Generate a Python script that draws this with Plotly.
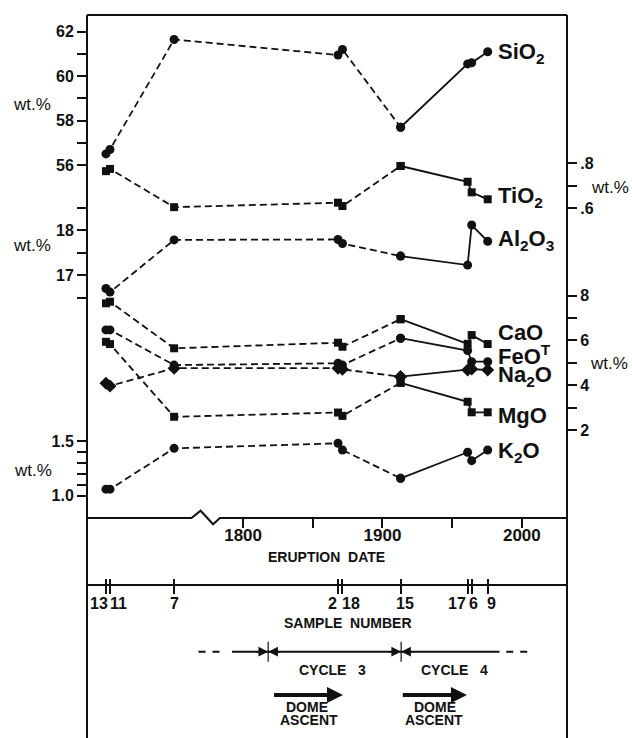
import plotly.graph_objects as go

# ---------------- data ----------------
sample_ids = ["13", "11", "7", "2", "18", "15", "17", "6", "9"]
# position on the (broken) eruption-date axis, in years
sample_pos = [1701.6, 1704.5, 1750.5, 1868.1, 1871.3, 1913.0, 1961.1, 1964.0, 1975.5]

sio2 = [56.5, 56.7, 61.65, 60.95, 61.2, 57.7, 60.55, 60.6, 61.1]
tio2 = [0.765, 0.775, 0.605, 0.625, 0.61, 0.788, 0.718, 0.671, 0.64]
al2o3 = [16.70, 16.62, 17.78, 17.79, 17.70, 17.42, 17.22, 18.11, 17.75]
cao = [7.66, 7.73, 5.65, 5.90, 5.72, 6.95, 5.85, 6.24, 5.84]
feo = [6.47, 6.47, 4.90, 4.98, 4.90, 6.10, 5.55, 5.05, 5.05]
na2o = [4.09, 3.97, 4.76, 4.76, 4.71, 4.38, 4.68, 4.72, 4.68]
mgo = [5.94, 5.84, 2.59, 2.78, 2.63, 4.11, 3.26, 2.79, 2.79]
k2o = [1.06, 1.06, 1.433, 1.479, 1.418, 1.159, 1.397, 1.32, 1.418]

date_ticks = [1800, 1900, 2000]
date_labels = ["1800", "1900", "2000"]
date_minor = [1850, 1950]

sio2_ticks = [62, 60, 58, 56]
sio2_labels = ["62", "60", "58", "56"]
sio2_minor = [61, 59, 57]
al2o3_ticks = [18, 17]
al2o3_labels = ["18", "17"]
al2o3_minor = [18.5, 17.5, 16.5]
k2o_ticks = [1.5, 1.0]
k2o_labels = ["1.5", "1.0"]
k2o_minor = [1.4, 1.3, 1.2, 1.1]
tio2_ticks = [0.8, 0.6]
tio2_labels = [".8", ".6"]
tio2_minor = [0.7]
major_ticks = [8, 6, 4, 2]
major_labels = ["8", "6", "4", "2"]
major_minor = [7, 5, 3]

cycle_bounds = [1818.0, 1913.4]
cycle_names = ["CYCLE\u00a0\u00a0\u00a03", "CYCLE\u00a0\u00a0\u00a04"]
dome_start = [1821.1, 1913.5]
dome_end = [1871.7, 1960.6]

# ---------------- layout helpers ----------------
W, H = 632, 738
ML, MR, MT, MB = 87, 64.5, 15, 0
PW = W - ML - MR
PH = H - MT - MB


def yp(py):
    return 1 - (py - MT) / PH


def xp(px):
    return (px - ML) / PW


X_RANGE = [1688.0, 2032.4]
DOM = [yp(518), 1]

FONT = "Liberation Sans, Arial, sans-serif"
BLACK = "#111"

fig = go.Figure()

series = [
    ("SiO<sub>2</sub>", sio2, "y", "circle", 9, -1),
    ("TiO<sub>2</sub>", tio2, "y2", "square", 8, 2),
    ("Al<sub>2</sub>O<sub>3</sub>", al2o3, "y3", "circle", 9, 1),
    ("CaO", cao, "y4", "square", 8, 12),
    ("FeO<sup>T</sup>", feo, "y4", "circle", 9, 7),
    ("Na<sub>2</sub>O", na2o, "y4", "diamond", 10, -6),
    ("MgO", mgo, "y4", "square", 8, -3),
    ("K<sub>2</sub>O", k2o, "y5", "circle", 9, -2),
]

for name, vals, yax, sym, msz, yshift in series:
    fig.add_trace(go.Scatter(
        x=sample_pos[:6], y=vals[:6], yaxis=yax, mode="lines+markers",
        line=dict(color=BLACK, width=1.8, dash="7px,4px"),
        marker=dict(symbol=sym, size=msz, color=BLACK),
        showlegend=False, hoverinfo="skip"))
    fig.add_trace(go.Scatter(
        x=sample_pos[5:], y=vals[5:], yaxis=yax, mode="lines+markers",
        line=dict(color=BLACK, width=1.8),
        marker=dict(symbol=sym, size=msz, color=BLACK),
        showlegend=False, hoverinfo="skip"))
    fig.add_annotation(
        x=sample_pos[-1], y=vals[-1], xref="x", yref=yax, text=name,
        showarrow=False, xanchor="left", yanchor="middle", xshift=8, yshift=yshift,
        font=dict(family=FONT, size=22, color=BLACK, weight="bold"))

# invisible trace to carry the sample-number axis
fig.add_trace(go.Scatter(x=[sample_pos[0]], y=[50], xaxis="x2", yaxis="y",
                         mode="markers", marker=dict(opacity=0),
                         showlegend=False, hoverinfo="skip"))

tickfont = dict(family=FONT, size=16, color=BLACK, weight="bold")


def minor(vals):
    return dict(tickmode="array", tickvals=vals, ticks="outside", ticklen=9,
                tickwidth=2, tickcolor=BLACK, showgrid=False)


def yaxis(ticks, labels, mvals, rng, side, overlay=True):
    d = dict(range=rng, tickmode="array", tickvals=ticks, ticktext=labels,
             side=side, minor=minor(mvals),
             ticks="outside", ticklen=9, tickwidth=2, tickcolor=BLACK,
             showgrid=False, zeroline=False, showline=False,
             tickfont=tickfont, anchor="x", fixedrange=True)
    if overlay:
        d["overlaying"] = "y"
    else:
        d["domain"] = DOM
    return d


def rng(v0, a, k):
    # value v0 sits at pixel a, k pixels per unit
    return [v0 - (518 - a) / k, v0 + (a - 15) / k]


fig.update_layout(
    width=W, height=H,
    margin=dict(l=ML, r=MR, t=MT, b=MB),
    paper_bgcolor="white", plot_bgcolor="white",
    xaxis=dict(range=X_RANGE, domain=[0, 1], anchor="free", position=yp(518),
               side="bottom", tickmode="array", tickvals=date_ticks,
               ticktext=date_labels, minor=minor(date_minor),
               ticks="outside", ticklen=9, tickwidth=2, tickcolor=BLACK,
               ticklabelstandoff=-7,
               showgrid=False, zeroline=False, showline=False,
               tickfont=dict(family=FONT, size=17, color=BLACK, weight="bold"),
               fixedrange=True),
    xaxis2=dict(range=X_RANGE, matches="x", overlaying="x", anchor="free",
                position=yp(578), side="bottom", tickmode="array",
                tickvals=sample_pos,
                ticks="outside", ticklen=15, tickwidth=2, tickcolor=BLACK,
                showticklabels=False, showgrid=False, zeroline=False,
                showline=False, fixedrange=True),
    yaxis=yaxis(sio2_ticks, sio2_labels, sio2_minor, rng(62, 31.7, 22.22), "left",
                overlay=False),
    yaxis2=yaxis(tio2_ticks, tio2_labels, tio2_minor, rng(0.8, 163.3, 225), "right"),
    yaxis3=yaxis(al2o3_ticks, al2o3_labels, al2o3_minor, rng(18, 230, 45), "left"),
    yaxis4=yaxis(major_ticks, major_labels, major_minor, rng(8, 295.7, 22.38), "right"),
    yaxis5=yaxis(k2o_ticks, k2o_labels, k2o_minor, rng(1.5, 441, 109.4), "left"),
)

line = dict(color=BLACK, width=2)
# frame
fig.add_shape(type="line", xref="paper", yref="paper", x0=0, x1=0, y0=0, y1=1, line=line)
fig.add_shape(type="line", xref="paper", yref="paper", x0=1, x1=1, y0=0, y1=1, line=line)
fig.add_shape(type="line", xref="paper", yref="paper", x0=0, x1=1, y0=1, y1=1, line=line)
# date axis line with break symbol
brk = [1763.0, 1769.5, 1778.5, 1783.3]
path = (f"M {X_RANGE[0]},{yp(518)} L {brk[0]},{yp(518)} L {brk[1]},{yp(510.7)} "
        f"L {brk[2]},{yp(524.3)} L {brk[3]},{yp(518)} L {X_RANGE[1]},{yp(518)}")
fig.add_shape(type="path", xref="x", yref="paper", path=path, line=line)
# sample-number axis line
fig.add_shape(type="line", xref="paper", yref="paper", x0=0, x1=1,
              y0=yp(585), y1=yp(585), line=line)

# sample labels
label_shift = [-7, 8, 0, -6, 9, 4, -11, 2, 4]
for sid, pos, sh in zip(sample_ids, sample_pos, label_shift):
    fig.add_annotation(x=pos, y=yp(603), xref="x", yref="paper", text=sid,
                       showarrow=False, xshift=sh, xanchor="center", yanchor="middle",
                       font=dict(family=FONT, size=16, color=BLACK, weight="bold"))

small_bold = dict(family=FONT, size=14, color=BLACK, weight="bold")
texts = [
    ("ERUPTION\u00a0\u00a0DATE", 327, 557),
    ("SAMPLE\u00a0\u00a0NUMBER", 348, 623),
]
for t, x, y in texts:
    fig.add_annotation(x=xp(x), y=yp(y), xref="paper", yref="paper", text=t,
                       showarrow=False, xanchor="center", yanchor="middle",
                       font=small_bold)

wt = [(31.7, 104), (31.7, 246), (32.5, 470), (611, 187), (610, 363.3)]
for x, y in wt:
    fig.add_annotation(x=xp(x), y=yp(y), xref="paper", yref="paper", text="wt.%",
                       showarrow=False, xanchor="center", yanchor="middle",
                       font=dict(family=FONT, size=17, color=BLACK))

# cycle time line
ty = yp(651.7)
seg = dict(color=BLACK, width=2)
fig.add_shape(type="line", xref="x", yref="paper", x0=1768, x1=1785, y0=ty, y1=ty,
              line=dict(color=BLACK, width=2, dash="7px,7px"))
fig.add_shape(type="line", xref="x", yref="paper", x0=1792, x1=1984, y0=ty, y1=ty, line=seg)
fig.add_shape(type="line", xref="x", yref="paper", x0=1988.8, x1=2004, y0=ty, y1=ty,
              line=dict(color=BLACK, width=2, dash="7px,7px"))
for b in cycle_bounds:
    fig.add_shape(type="line", xref="x", yref="paper", x0=b, x1=b,
                  y0=yp(641.7), y1=yp(661.7), line=dict(color=BLACK, width=1.2))
    for off in (-14, 14):
        fig.add_annotation(x=b, y=ty, xref="x", yref="paper", text="",
                           showarrow=True, axref="pixel", ayref="pixel", ax=off, ay=0,
                           arrowhead=2, arrowsize=1.3, arrowwidth=1.5,
                           arrowcolor=BLACK, standoff=0)

cyc_x = [333, 455]
for name, x in zip(cycle_names, cyc_x):
    fig.add_annotation(x=xp(x), y=yp(670), xref="paper", yref="paper", text=name,
                       showarrow=False, xanchor="center", yanchor="middle",
                       font=small_bold)

# dome ascent arrows
dome_txt_x = [(307, 309), (435, 434)]
for s, e, (xd, xa) in zip(dome_start, dome_end, dome_txt_x):
    fig.add_annotation(x=e, y=yp(695), xref="x", yref="paper", text="",
                       showarrow=True, axref="x", ax=s, ayref="pixel", ay=0,
                       arrowhead=2, arrowsize=0.8, arrowwidth=4,
                       arrowcolor=BLACK, standoff=0)
    fig.add_annotation(x=xp(xd), y=yp(706.5), xref="paper", yref="paper", text="DOME",
                       showarrow=False, xanchor="center", yanchor="middle",
                       font=small_bold)
    fig.add_annotation(x=xp(xa), y=yp(719.5), xref="paper", yref="paper", text="ASCENT",
                       showarrow=False, xanchor="center", yanchor="middle",
                       font=small_bold)

fig.write_html("out.html")
